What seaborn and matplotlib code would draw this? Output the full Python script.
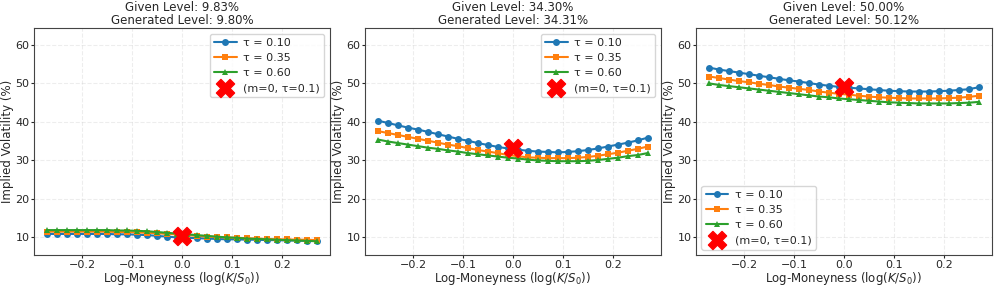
import numpy as np
import pandas as pd
import seaborn as sns
import matplotlib.pyplot as plt

# log-moneyness grid (same for every panel)
moneyness = [-0.27, -0.25, -0.23, -0.21, -0.19, -0.17, -0.15, -0.13, -0.11, -0.09,
             -0.07, -0.05, -0.03, -0.01, 0.01, 0.03, 0.05, 0.07, 0.09, 0.11,
             0.13, 0.15, 0.17, 0.19, 0.21, 0.23, 0.25, 0.27]
taus = ['0.10', '0.35', '0.60']

given_levels = ['9.83%', '34.30%', '50.00%']
generated_levels = ['9.80%', '34.31%', '50.12%']

# implied vols (%), panel 1
low_tau010 = [10.8, 10.8, 10.8, 10.8, 10.8, 10.8, 10.8, 10.7, 10.7, 10.6, 10.5, 10.3, 10.1, 9.9,
              9.8, 9.7, 9.6, 9.5, 9.4, 9.4, 9.3, 9.3, 9.2, 9.2, 9.1, 9.1, 9.0, 9.0]
low_tau035 = [11.4, 11.4, 11.4, 11.4, 11.4, 11.4, 11.4, 11.3, 11.3, 11.2, 11.1, 11.0, 10.8, 10.7,
              10.5, 10.3, 10.1, 10.0, 9.9, 9.8, 9.7, 9.6, 9.5, 9.4, 9.4, 9.3, 9.3, 9.2]
low_tau060 = [11.8, 11.8, 11.8, 11.8, 11.8, 11.8, 11.8, 11.7, 11.7, 11.6, 11.5, 11.3, 11.1, 10.9,
              10.7, 10.5, 10.3, 10.1, 9.9, 9.8, 9.6, 9.5, 9.4, 9.3, 9.2, 9.1, 9.0, 8.9]

# panel 2
mid_tau010 = [40.2, 39.6, 39.0, 38.4, 37.9, 37.3, 36.7, 36.1, 35.5, 35.0, 34.4, 33.9, 33.4, 33.0,
              32.7, 32.4, 32.2, 32.1, 32.0, 32.1, 32.3, 32.6, 33.0, 33.5, 34.0, 34.5, 35.1, 35.8]
mid_tau035 = [37.5, 37.0, 36.5, 36.0, 35.5, 35.0, 34.5, 34.0, 33.6, 33.1, 32.6, 32.2, 31.8, 31.3,
              31.0, 30.7, 30.6, 30.5, 30.5, 30.5, 30.6, 30.8, 31.1, 31.5, 31.9, 32.4, 32.9, 33.5]
mid_tau060 = [35.3, 34.8, 34.4, 34.0, 33.6, 33.2, 32.9, 32.5, 32.2, 31.8, 31.5, 31.2, 30.9, 30.6,
              30.4, 30.1, 29.9, 29.8, 29.7, 29.7, 29.7, 29.8, 30.0, 30.3, 30.6, 31.0, 31.3, 31.8]

# panel 3
high_tau010 = [54.0, 53.5, 53.1, 52.7, 52.3, 51.9, 51.5, 51.1, 50.7, 50.4, 50.0, 49.6, 49.3, 49.0,
               48.8, 48.6, 48.4, 48.2, 48.0, 47.9, 47.8, 47.8, 47.8, 47.9, 48.0, 48.2, 48.4, 48.9]
high_tau035 = [51.7, 51.3, 50.9, 50.5, 50.2, 49.8, 49.5, 49.1, 48.8, 48.5, 48.2, 47.8, 47.5, 47.2,
               47.0, 46.7, 46.5, 46.3, 46.2, 46.1, 46.0, 46.0, 46.0, 46.0, 46.1, 46.2, 46.4, 46.7]
high_tau060 = [49.9, 49.5, 49.2, 48.9, 48.6, 48.3, 48.0, 47.7, 47.4, 47.1, 46.8, 46.5, 46.3, 46.0,
               45.8, 45.6, 45.4, 45.2, 45.0, 44.9, 44.8, 44.7, 44.7, 44.7, 44.7, 44.8, 44.9, 45.1]

# vol at (m=0, tau=0.1) for each panel
atm_vols = [10.2, 33.0, 49.1]

panels = [
    [low_tau010, low_tau035, low_tau060],
    [mid_tau010, mid_tau035, mid_tau060],
    [high_tau010, high_tau035, high_tau060],
]
legend_locs = ['upper right', 'upper right', 'lower left']

sns.set_style("ticks")
plt.rcParams['font.family'] = ['DejaVu Sans']

colors = sns.color_palette('tab10')[:3]
markers = ['o', 's', '^']

fig, axes = plt.subplots(1, 3, figsize=(9.97, 2.86), dpi=100)

for i, ax in enumerate(axes):
    for j, tau in enumerate(taus):
        df = pd.DataFrame({'m': moneyness, 'iv': panels[i][j]})
        sns.lineplot(x='m', y='iv', data=df, ax=ax, color=colors[j], marker=markers[j],
                     markersize=5, markeredgewidth=0, linewidth=1.5, label=f'τ = {tau}')
    ax.scatter([0.0], [atm_vols[i]], marker='X', s=170, color='red', zorder=5,
               label='(m=0, τ=0.1)')
    ax.set_ylim(5.3, 64.3)
    ax.set_yticks([10, 20, 30, 40, 50, 60])
    ax.set_xticks([-0.2, -0.1, 0.0, 0.1, 0.2])
    ax.grid(True, linestyle='--', alpha=0.35)
    ax.set_title(f'Given Level: {given_levels[i]}\nGenerated Level: {generated_levels[i]}',
                 fontsize=8.5, pad=3, linespacing=1.0)
    ax.set_xlabel(r'Log-Moneyness ($\log(K/S_0)$)', fontsize=8.5, labelpad=0)
    ax.set_ylabel('Implied Volatility (%)', fontsize=8.5, labelpad=1)
    ax.tick_params(labelsize=8, length=2, pad=1.2)
    for s in ax.spines.values():
        s.set_color('#444444')
    ax.legend(loc=legend_locs[i], fontsize=8, handlelength=2.0, borderaxespad=0.5,
              labelspacing=0.45, borderpad=0.4, handletextpad=0.6)

plt.subplots_adjust(left=0.034, right=0.995, top=0.902, bottom=0.108, wspace=0.118)
plt.savefig('out.png', dpi=100)
